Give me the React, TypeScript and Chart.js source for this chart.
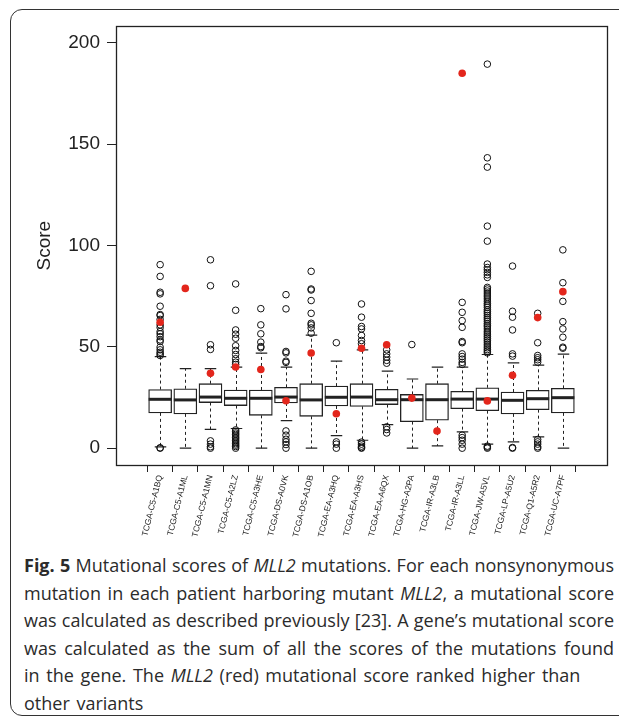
import React, { useEffect, useRef } from 'react';
import { Chart, registerables } from 'chart.js';

Chart.register(...registerables);

const categories = [
  'TCGA-C5-A1BQ', 'TCGA-C5-A1ML', 'TCGA-C5-A1MN', 'TCGA-C5-A2LZ', 'TCGA-C5-A3HE',
  'TCGA-DS-A0VK', 'TCGA-DS-A1OB', 'TCGA-EA-A3HQ', 'TCGA-EA-A3HS', 'TCGA-EA-A6QX',
  'TCGA-HG-A2PA', 'TCGA-IR-A3LB', 'TCGA-IR-A3LL', 'TCGA-JW-A5VL', 'TCGA-LP-A5U2',
  'TCGA-Q1-A5R2', 'TCGA-UC-A7PF',
];

const boxQ3 = [28.9, 29.3, 31.8, 28.7, 28.7, 30.0, 31.8, 30.6, 31.8, 29.0, 26.5, 31.8, 28.0, 29.8, 27.7, 28.5, 29.5];
const boxMedian = [24.1, 23.8, 25.2, 24.6, 24.6, 25.2, 23.8, 25.1, 25.2, 23.9, 23.9, 23.9, 24.2, 24.2, 23.6, 24.4, 24.9];
const boxQ1 = [17.4, 16.9, 22.5, 21.0, 16.2, 22.3, 15.7, 20.8, 20.6, 21.5, 13.1, 13.8, 19.5, 18.5, 16.9, 19.0, 17.4];
const whiskerHigh = [45.1, 39.2, 39.2, 40.0, 46.9, 40.0, 55.7, 42.9, 48.5, 38.0, 34.1, 40.0, 40.0, 46.2, 42.1, 41.0, 46.4];
const whiskerLow = [0.6, 0, 9.3, 9.7, 0, 13.6, 0, 6.2, 3.9, 11.6, 0, 1.1, 8.0, 2.0, 3.1, 5.6, 0];

const mll2Score = [62.1, 78.8, 36.9, 40.0, 38.8, 23.4, 46.9, 17.0, 49.3, 51.0, 24.7, 8.5, 184.9, 23.3, 35.9, 64.4, 77.2];

const outliers: number[][] = [
  [90.5, 84.7, 76.9, 76.1, 70.0, 65.9, 65.4, 63.5, 60.8, 59.5, 57.5, 56.4, 55.0, 53.4, 52.6, 49.8, 48.5, 47.3, 46.5, 45.7, 0, 0.2],
  [],
  [92.9, 80.1, 51.0, 48.7, 3.6, 2.0, 0.7, 0],
  [81.0, 68.0, 58.3, 56.2, 54.2, 50.5, 48.2, 46.2, 44.1, 42.4, 41.3, 9.0, 8.3, 7.5, 6.8, 6.0, 5.2, 4.5, 3.7, 3.0, 2.2, 1.5, 0.8, 0],
  [68.8, 60.8, 56.4, 52.3, 50.1, 49.5],
  [75.7, 68.7, 47.7, 47.0, 42.9, 42.3, 8.5, 6.4, 4.4, 3.1, 1.8, 0],
  [87.2, 78.5, 78.0, 72.8, 66.5, 61.6, 60.8, 59.3, 56.7],
  [52.0, 3.1, 2.0, 0],
  [71.1, 64.6, 60.0, 58.8, 55.6, 53.1, 51.5, 3.0, 2.0, 1.0, 0.3, 0],
  [48.5, 46.5, 44.9, 43.3, 41.9, 10.5, 9.2, 7.5],
  [51.1],
  [],
  [71.9, 67.0, 62.9, 59.6, 52.6, 52.0, 46.5, 45.2, 43.9, 42.3, 41.3, 6.4, 5.2, 3.9, 2.0, 0],
  [189.4, 143.2, 138.6, 109.5, 102.1, 90.8, 89.1, 88.0, 86.7, 85.5, 84.2, 79.3, 78.5, 77.5, 76.5, 75.5, 74.6, 73.6,
    72.5, 71.4, 70.5, 69.5, 68.3, 67.4, 66.5, 65.5, 64.5, 63.6, 62.6, 61.5, 60.6, 59.8, 58.8, 57.7, 56.8, 55.9, 55.0,
    54.1, 53.2, 52.3, 51.3, 50.4, 49.5, 48.6, 47.8, 47.0, 1.0, 0.5, 0],
  [89.8, 67.5, 64.6, 58.3, 46.5, 45.4, 0.3, 0],
  [66.5, 52.0, 45.7, 44.6, 43.6, 42.4, 4.3, 3.1, 2.0, 0.7, 0],
  [97.8, 81.6, 72.4, 62.4, 58.8, 54.7, 49.8, 49.3],
];

const yTicks = [0, 50, 100, 150, 200];

const AXIS_FONT = '"Liberation Sans", Arial, Helvetica, sans-serif';
const INK = '#222';

export default function App() {
  const ref = useRef<HTMLCanvasElement>(null);

  useEffect(() => {
    if (!ref.current) return;
    const BOX_INDEX = 2;
    const boxData = categories.map((_, i) => ({ x: i + 1, y: [boxQ1[i], boxQ3[i]] }));
    const outlierData = outliers.flatMap((vals, i) => vals.map((v) => ({ x: i + 1, y: v })));
    const redData = mll2Score.map((v, i) => ({ x: i + 1, y: v }));

    const boxParts = {
      id: 'boxParts',
      afterDatasetDraw(chart: any, args: any) {
        if (args.index !== BOX_INDEX) return;
        const { ctx } = chart;
        const xS = chart.scales.x;
        const yS = chart.scales.y;
        const meta = chart.getDatasetMeta(BOX_INDEX);
        ctx.save();
        ctx.strokeStyle = INK;
        categories.forEach((_, i) => {
          const bar = meta.data[i] as any;
          const cx = Math.round(xS.getPixelForValue(i + 1)) + 0.5;
          const half = bar.width / 2;
          const capHalf = half * 0.5;
          const yQ1 = yS.getPixelForValue(boxQ1[i]);
          const yQ3 = yS.getPixelForValue(boxQ3[i]);
          const yHi = yS.getPixelForValue(whiskerHigh[i]);
          const yLo = yS.getPixelForValue(whiskerLow[i]);
          const yMed = yS.getPixelForValue(boxMedian[i]);
          ctx.lineWidth = 1;
          ctx.setLineDash([3, 3]);
          ctx.beginPath();
          ctx.moveTo(cx, yQ3);
          ctx.lineTo(cx, yHi);
          ctx.moveTo(cx, yQ1);
          ctx.lineTo(cx, yLo);
          ctx.stroke();
          ctx.setLineDash([]);
          ctx.lineWidth = 1.2;
          ctx.beginPath();
          ctx.moveTo(cx - capHalf, yHi);
          ctx.lineTo(cx + capHalf, yHi);
          ctx.moveTo(cx - capHalf, yLo);
          ctx.lineTo(cx + capHalf, yLo);
          ctx.stroke();
          ctx.lineWidth = 3;
          ctx.beginPath();
          ctx.moveTo(bar.x - half, yMed);
          ctx.lineTo(bar.x + half, yMed);
          ctx.stroke();
        });
        ctx.restore();
      },
      afterDatasetsDraw(chart: any) {
        const { ctx, chartArea } = chart;
        ctx.save();
        ctx.strokeStyle = INK;
        ctx.lineWidth = 1.3;
        ctx.strokeRect(
          Math.round(chartArea.left) + 0.5,
          Math.round(chartArea.top) + 0.5,
          Math.round(chartArea.right - chartArea.left),
          Math.round(chartArea.bottom - chartArea.top)
        );
        ctx.restore();
      },
    };

    const chart = new Chart(ref.current, {
      type: 'bar',
      data: {
        datasets: [
          {
            type: 'scatter',
            label: 'MLL2',
            data: redData,
            pointStyle: 'circle',
            pointRadius: 3.8,
            pointBorderWidth: 0,
            pointBackgroundColor: '#e3261c',
            order: 0,
          } as any,
          {
            type: 'scatter',
            label: 'Other variants',
            data: outlierData,
            pointStyle: 'circle',
            pointRadius: 3.3,
            pointBorderWidth: 1,
            pointBorderColor: '#111',
            pointBackgroundColor: 'rgba(0,0,0,0)',
            order: 1,
          } as any,
          {
            type: 'bar',
            label: 'Box',
            data: boxData,
            barThickness: 23,
            backgroundColor: '#ffffff',
            borderColor: INK,
            borderWidth: 1.3,
            borderSkipped: false,
            order: 2,
          } as any,
        ],
      },
      options: {
        responsive: false,
        animation: false,
        events: [],
        layout: { padding: { left: 0, top: 17, right: 20, bottom: 0 } },
        plugins: {
          legend: { display: false },
          tooltip: { enabled: false },
        },
        scales: {
          x: {
            type: 'linear',
            min: -0.18,
            max: 18.18,
            afterBuildTicks: (scale: any) => {
              scale.ticks = categories.map((_, i) => ({ value: i + 1 }));
            },
            afterFit: (scale: any) => {
              scale.height = 83;
            },
            grid: {
              drawOnChartArea: false,
              drawTicks: true,
              tickLength: 7,
              color: INK,
              lineWidth: 1,
            },
            border: { display: false },
            ticks: {
              autoSkip: false,
              minRotation: 76,
              maxRotation: 76,
              padding: 2,
              color: INK,
              font: { family: AXIS_FONT, size: 8.5 },
              callback: (v: any) => categories[Math.round(Number(v)) - 1] ?? '',
            },
          },
          y: {
            type: 'linear',
            min: -8.3,
            max: 208,
            afterBuildTicks: (scale: any) => {
              scale.ticks = yTicks.map((v) => ({ value: v }));
            },
            afterFit: (scale: any) => {
              scale.width = 108;
            },
            grid: {
              drawOnChartArea: false,
              drawTicks: true,
              tickLength: 9,
              color: INK,
              lineWidth: 1,
            },
            border: { display: false },
            ticks: {
              padding: 7,
              color: INK,
              font: { family: AXIS_FONT, size: 19 },
            },
            title: {
              display: true,
              text: 'Score',
              color: INK,
              font: { family: AXIS_FONT, size: 19 },
              padding: { top: 25.6, bottom: 0 },
            },
          },
        },
      },
      plugins: [boxParts],
    });

    return () => chart.destroy();
  }, []);

  const justified: React.CSSProperties = {
    whiteSpace: 'nowrap',
    width: 590,
    textAlign: 'justify',
    textAlignLast: 'justify',
  };
  const natural: React.CSSProperties = { whiteSpace: 'nowrap', wordSpacing: '2px' };

  return (
    <div style={{ position: 'relative', width: 619, height: 709, overflow: 'hidden' }}>
      <div
        style={{
          position: 'absolute',
          left: 2,
          top: 1,
          width: 700,
          height: 707,
          border: '1.5px solid #333',
          borderRadius: 12,
          boxSizing: 'border-box',
        }}
      />
      <canvas
        ref={ref}
        width={619}
        height={540}
        style={{ position: 'absolute', left: 0, top: 0, width: 619, height: 540 }}
      />
      <div
        style={{
          position: 'absolute',
          left: 16,
          top: 544,
          fontFamily: '"Open Sans", sans-serif',
          fontSize: 18,
          lineHeight: '27.6px',
          color: '#2b2b2b',
        }}
      >
        <div style={justified}>
          <b>Fig. 5</b> Mutational scores of <i>MLL2</i> mutations. For each nonsynonymous
        </div>
        <div style={justified}>
          mutation in each patient harboring mutant <i>MLL2</i>, a mutational score
        </div>
        <div style={justified}>was calculated as described previously [23]. A gene’s mutational score</div>
        <div style={justified}>was calculated as the sum of all the scores of the mutations found</div>
        <div style={natural}>
          in the gene. The <i>MLL2</i> (red) mutational score ranked higher than
        </div>
        <div style={natural}>other variants</div>
      </div>
    </div>
  );
}
